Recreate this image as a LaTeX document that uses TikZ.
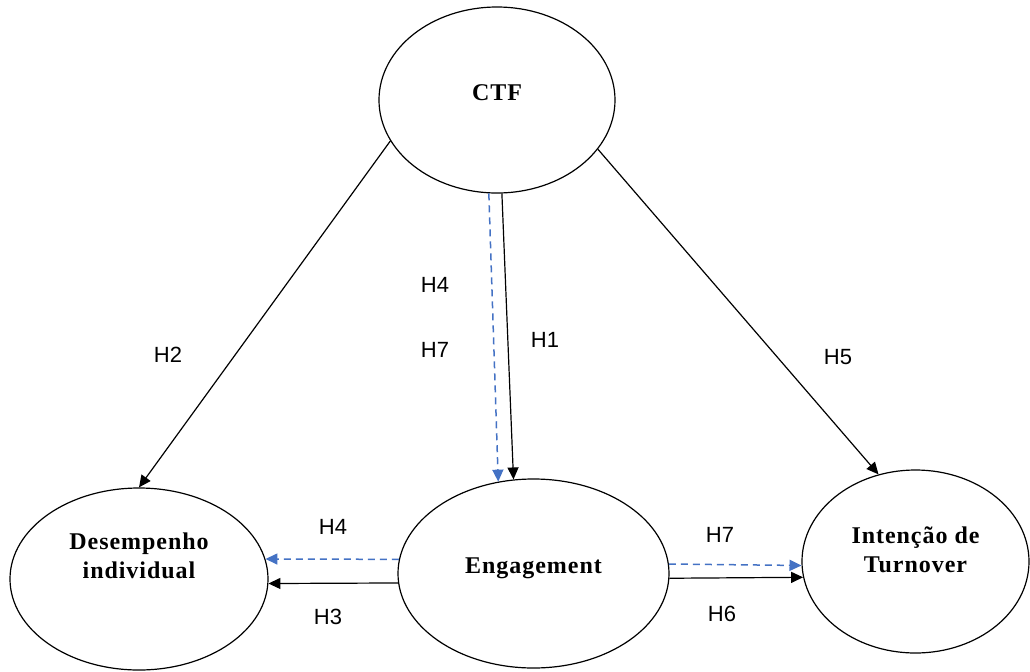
\documentclass[tikz,border=0pt]{standalone}
\usepackage{fontspec}
\setmainfont{Liberation Serif}
\setsansfont{Liberation Sans}
\usetikzlibrary{shapes.geometric,arrows.meta}
\definecolor{hypblue}{RGB}{68,114,196}

\begin{document}
\begin{tikzpicture}[x=0.5pt,y=-0.5pt]
            \tikzstyle{construct}=[draw,ellipse,line width=0.6pt,inner sep=0pt]
            \tikzstyle{ctitle}=[align=center,font=\bfseries\fontsize{12}{14.5}\selectfont\addfontfeatures{LetterSpace=4}]
            \tikzstyle{direct}=[line width=0.6pt,-{Triangle[length=6pt,width=5.5pt]}]
            \tikzstyle{mediated}=[hypblue,line width=0.75pt,dash pattern=on 3.5pt off 2.5pt,-{Triangle[length=6pt,width=5.5pt]}]
            \tikzstyle{hyp}=[font=\sffamily\fontsize{11}{13}\selectfont]
            \useasboundingbox (0,0) rectangle (1030,671);
            % constructs
            \node[construct,minimum width=118pt,minimum height=93pt,label={[ctitle,yshift=3.5pt]center:CTF}] (ctf) at (497,100) {};
            \node[construct,minimum width=129pt,minimum height=91pt,label={[ctitle,yshift=11.5pt]center:Desempenho\\individual}] (des) at (139,579) {};
            \node[construct,minimum width=135.5pt,minimum height=94.5pt,label={[ctitle,yshift=2.5pt]center:Engagement}] (eng) at (533.5,573.5) {};
            \node[construct,minimum width=113.5pt,minimum height=91.5pt,label={[ctitle,yshift=6pt]center:Intenção de\\Turnover}] (int) at (915.5,561.5) {};
            % hypotheses
            \draw[direct] (ctf.201) -- (des.north);
            \draw[direct] (ctf.334) -- (int.113);
            \draw[direct] (ctf.273) -- (eng.102);
            \draw[mediated] (ctf.265) -- (eng.111);
            \draw[direct] (eng.184) -- (des.358);
            \draw[mediated] (eng.174) -- (des.9);
            \draw[direct] (eng.358) -- (int.188);
            \draw[mediated] (eng.4) -- (int.182);
            % labels
            \node[hyp] (h2) at (168,355) {H2};
            \node[hyp] (h4a) at (435,285) {H4};
            \node[hyp] (h7a) at (435,350) {H7};
            \node[hyp] (h1) at (545,340) {H1};
            \node[hyp] (h5) at (838,357) {H5};
            \node[hyp] (h4b) at (333,527) {H4};
            \node[hyp] (h3) at (328,617) {H3};
            \node[hyp] (h7b) at (720,535) {H7};
            \node[hyp] (h6) at (722,614) {H6};
\end{tikzpicture}
\end{document}
